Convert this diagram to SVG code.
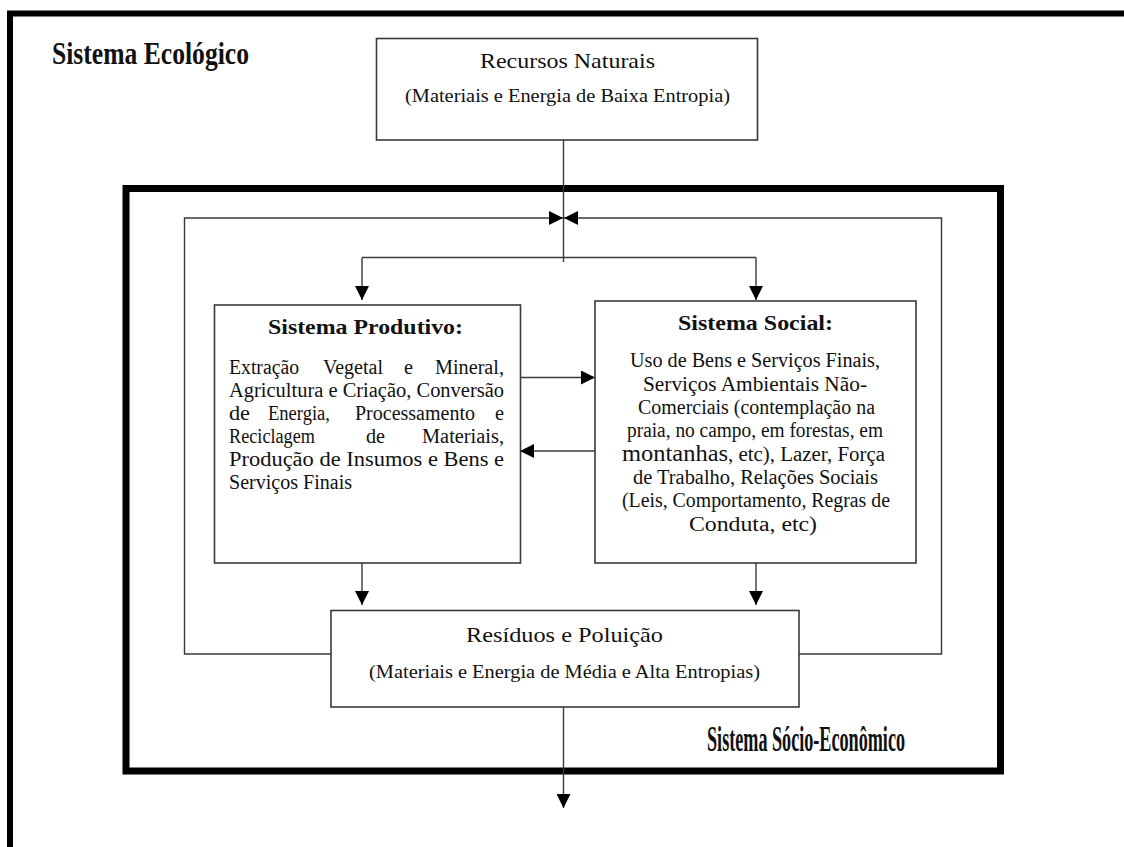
<svg xmlns="http://www.w3.org/2000/svg" width="1124" height="847" viewBox="0 0 1124 847">
<style>
.t{font-family:"Liberation Serif","Times New Roman",serif;fill:#111}
.b{font-weight:bold}
.box{fill:#fff;stroke:#3a3a3a;stroke-width:1.6}
.ln{fill:none;stroke:#3a3a3a;stroke-width:1.4}
.thick{fill:none;stroke:#000}
</style>
<defs>
<marker id="ah" markerWidth="14" markerHeight="14" viewBox="0 0 14 14" refX="14" refY="7" orient="auto" markerUnits="userSpaceOnUse">
<path d="M0,0 L14,7 L0,14 Z" fill="#000"/>
</marker>
</defs>
<rect width="1124" height="847" fill="#fff"/>
<g id="frames">
<path class="thick" stroke-width="6" d="M10,860 V13.5 H1140"/>
<rect class="thick" stroke-width="7" x="126" y="188.5" width="874.5" height="582.5"/>
<text class="t b" x="52" y="64" font-size="31" textLength="197" lengthAdjust="spacingAndGlyphs">Sistema Ecológico</text>
<text class="t b" x="707" y="751" font-size="35" textLength="198" lengthAdjust="spacingAndGlyphs">Sistema Sócio-Econômico</text>
</g>
<g id="connectors">
<path class="ln" d="M563.5,140 V262"/>
<path class="ln" d="M362,257.5 H756"/>
<path class="ln" d="M362,257.5 V300" marker-end="url(#ah)"/>
<path class="ln" d="M756,257.5 V300" marker-end="url(#ah)"/>
<path class="ln" d="M331,654 H184.5 V218 H563" marker-end="url(#ah)"/>
<path class="ln" d="M799,654 H941.5 V218 H564" marker-end="url(#ah)"/>
<path class="ln" d="M520,377.5 H595" marker-end="url(#ah)"/>
<path class="ln" d="M595,451 H520" marker-end="url(#ah)"/>
<path class="ln" d="M362,563 V605" marker-end="url(#ah)"/>
<path class="ln" d="M756,563 V605" marker-end="url(#ah)"/>
<path class="ln" d="M563.5,707 V808" marker-end="url(#ah)"/>
</g>
<g id="recursos">
<rect class="box" x="376.5" y="38.5" width="381" height="101.5"/>
<text class="t" x="480" y="68" font-size="21" textLength="175" lengthAdjust="spacingAndGlyphs">Recursos Naturais</text>
<text class="t" x="405" y="102" font-size="19" textLength="325" lengthAdjust="spacingAndGlyphs">(Materiais e Energia de Baixa Entropia)</text>
</g>
<g id="produtivo">
<rect class="box" x="214.5" y="305" width="306" height="258"/>
<text class="t b" x="268" y="334" font-size="21" textLength="195" lengthAdjust="spacingAndGlyphs">Sistema Produtivo:</text>
<g font-size="20.5">
<text class="t" x="229" y="374" textLength="70" lengthAdjust="spacingAndGlyphs">Extração</text>
<text class="t" x="323" y="374" textLength="60" lengthAdjust="spacingAndGlyphs">Vegetal</text>
<text class="t" x="404" y="374" textLength="9" lengthAdjust="spacingAndGlyphs">e</text>
<text class="t" x="435" y="374" textLength="69" lengthAdjust="spacingAndGlyphs">Mineral,</text>
<text class="t" x="229" y="397" textLength="275" lengthAdjust="spacingAndGlyphs">Agricultura e Criação, Conversão</text>
<text class="t" x="229" y="420" textLength="21" lengthAdjust="spacingAndGlyphs">de</text>
<text class="t" x="268" y="420" textLength="62" lengthAdjust="spacingAndGlyphs">Energia,</text>
<text class="t" x="355" y="420" textLength="120" lengthAdjust="spacingAndGlyphs">Processamento</text>
<text class="t" x="495" y="420" textLength="9" lengthAdjust="spacingAndGlyphs">e</text>
<text class="t" x="229" y="443" textLength="86" lengthAdjust="spacingAndGlyphs">Reciclagem</text>
<text class="t" x="366" y="443" textLength="19" lengthAdjust="spacingAndGlyphs">de</text>
<text class="t" x="422" y="443" textLength="82" lengthAdjust="spacingAndGlyphs">Materiais,</text>
<text class="t" x="229" y="466" textLength="275" lengthAdjust="spacingAndGlyphs">Produção de Insumos e Bens e</text>
<text class="t" x="229" y="489" textLength="123" lengthAdjust="spacingAndGlyphs">Serviços Finais</text>
</g>
</g>
<g id="social">
<rect class="box" x="595" y="301" width="321" height="262"/>
<text class="t b" x="678" y="330" font-size="21" textLength="155" lengthAdjust="spacingAndGlyphs">Sistema Social:</text>
<g font-size="20.5">
<text class="t" x="630" y="367" textLength="250" lengthAdjust="spacingAndGlyphs">Uso de Bens e Serviços Finais,</text>
<text class="t" x="643" y="390.5" textLength="224" lengthAdjust="spacingAndGlyphs">Serviços Ambientais Não-</text>
<text class="t" x="638" y="414" textLength="237" lengthAdjust="spacingAndGlyphs">Comerciais (contemplação na</text>
<text class="t" x="627" y="437" textLength="256" lengthAdjust="spacingAndGlyphs">praia, no campo, em forestas, em</text>
<text class="t" x="622" y="461" textLength="263" lengthAdjust="spacingAndGlyphs"><tspan font-size="24">montanhas</tspan>, etc), Lazer, Força</text>
<text class="t" x="633" y="483.5" textLength="245" lengthAdjust="spacingAndGlyphs">de Trabalho, Relações Sociais</text>
<text class="t" x="622" y="507" textLength="268" lengthAdjust="spacingAndGlyphs">(Leis, Comportamento, Regras de</text>
<text class="t" x="689" y="530.5" textLength="128" lengthAdjust="spacingAndGlyphs">Conduta, etc)</text>
</g>
</g>
<g id="residuos">
<rect class="box" x="331" y="610.5" width="468" height="96.5"/>
<text class="t" x="466" y="642" font-size="22" textLength="197" lengthAdjust="spacingAndGlyphs">Resíduos e Poluição</text>
<text class="t" x="369" y="678" font-size="19" textLength="391" lengthAdjust="spacingAndGlyphs">(Materiais e Energia de Média e Alta Entropias)</text>
</g>
</svg>
